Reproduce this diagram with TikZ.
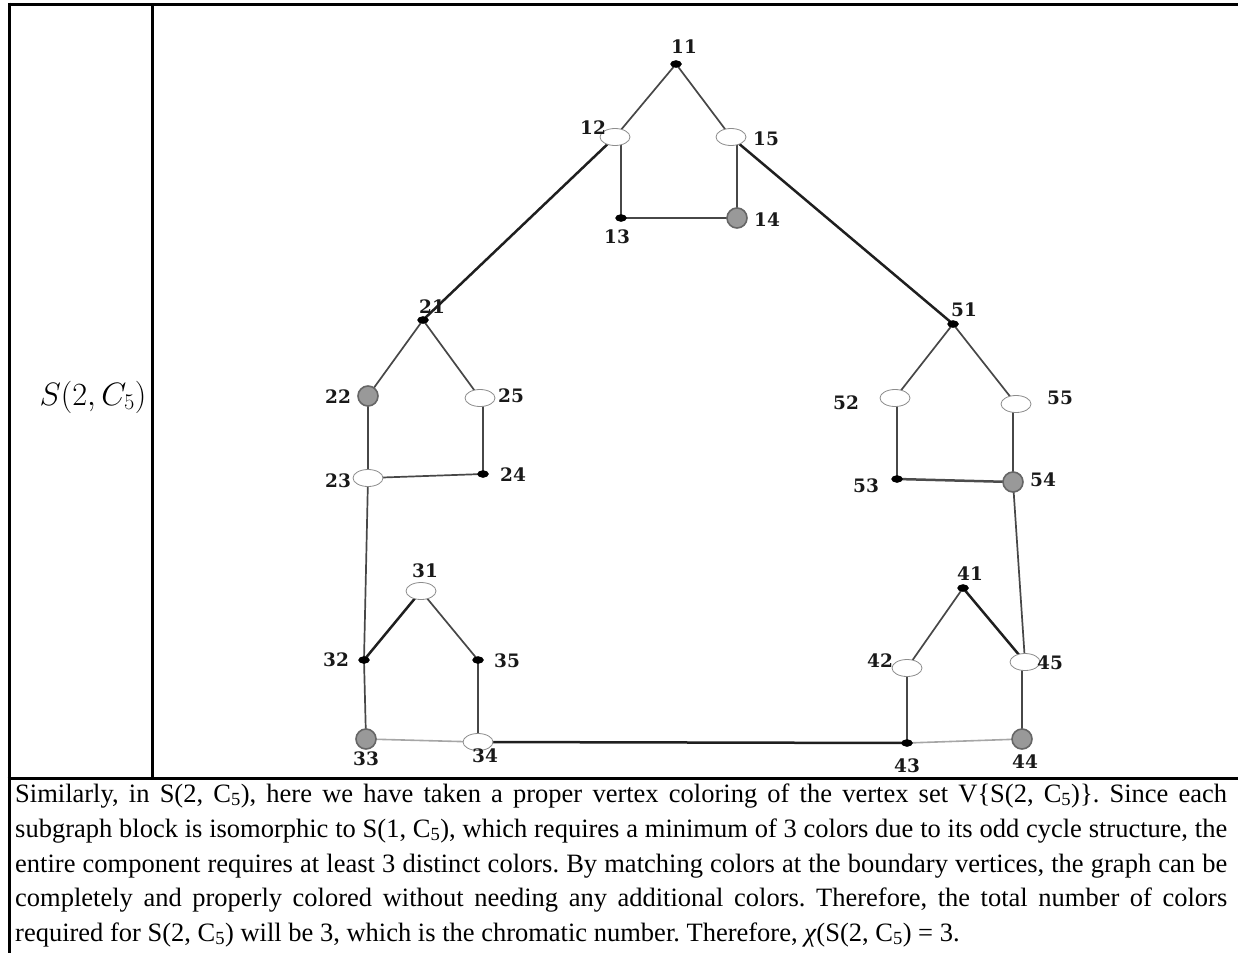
\documentclass[tikz,border=0pt]{standalone}
\usepackage{graphicx}
\usepackage{fontspec}
\setmainfont{Liberation Serif}
\newfontfamily\lblfont{DejaVu Serif}
\usetikzlibrary{shapes.geometric}
\pgfdeclarelayer{background}
\pgfsetlayers{background,main}
\begin{document}
\frenchspacing
\begin{tikzpicture}[x=1pt,y=-1pt,
  blk/.style={ellipse,fill=black,draw=black,inner sep=0pt,minimum width=11pt,minimum height=7pt},
  wht/.style={ellipse,fill=white,draw=black!45,line width=0.8pt,inner sep=0pt,minimum width=30pt,minimum height=17pt},
  gry/.style={circle,fill=black!40,draw=black!60,line width=1.6pt,inner sep=0pt,minimum size=20pt},
  lbl/.style={font=\lblfont\bfseries\fontsize{18.5}{18.5}\selectfont,text=black!90,inner sep=0pt},
  edge/.style={draw=black!72,line width=1.7pt},
  thk/.style={draw=black!88,line width=2.5pt},
  lgt/.style={draw=black!35,line width=1.6pt},
  rule/.style={line width=3pt,black},
  para/.style={anchor=base west,inner sep=0pt,font=\fontsize{26.5}{30}\selectfont}]
\useasboundingbox (0,0) rectangle (1238,953);
% table rules
\draw[rule] (8,4) -- (1238,4);
\draw[rule] (9,2.5) -- (9,953);
\draw[rule] (152,4) -- (152,778);
\draw[rule] (7.5,778) -- (1238,778);
\node[inner sep=0pt,font=\fontsize{24}{24}\selectfont] (title) at (93,397) {\scalebox{1.3}{$S(2,C_5)$}};
% vertices
\node[blk] (v11) at (676,64) {};
\node[wht] (v12) at (615,137) {};
\node[wht] (v15) at (731,137) {};
\node[blk] (v13) at (621,218) {};
\node[gry] (v14) at (737,218) {};
\node[blk] (v21) at (423,320) {};
\node[gry] (v22) at (368,396) {};
\node[wht] (v25) at (480,398) {};
\node[wht] (v23) at (368,478) {};
\node[blk] (v24) at (483,474) {};
\node[blk] (v51) at (953,324) {};
\node[wht] (v52) at (895,398) {};
\node[wht] (v55) at (1016,404) {};
\node[blk] (v53) at (897,479) {};
\node[gry] (v54) at (1013,482) {};
\node[wht] (v31) at (421,591) {};
\node[blk] (v32) at (364,660) {};
\node[blk] (v35) at (478,660) {};
\node[gry] (v33) at (366,739) {};
\node[wht] (v34) at (478,742) {};
\node[blk] (v41) at (963,588) {};
\node[wht] (v42) at (907,668) {};
\node[wht] (v45) at (1025,662) {};
\node[blk] (v43) at (907,743) {};
\node[gry] (v44) at (1022,739) {};
% labels
\node[lbl] (l11) at (684,47) {11};
\node[lbl] (l12) at (593,128) {12};
\node[lbl] (l15) at (766,139) {15};
\node[lbl] (l13) at (617,237) {13};
\node[lbl] (l14) at (767,220) {14};
\node[lbl] (l21) at (432,307) {21};
\node[lbl] (l22) at (338,397) {22};
\node[lbl] (l25) at (511,396) {25};
\node[lbl] (l23) at (338,481) {23};
\node[lbl] (l24) at (513,475) {24};
\node[lbl] (l51) at (964,310) {51};
\node[lbl] (l52) at (846,403) {52};
\node[lbl] (l55) at (1060,398) {55};
\node[lbl] (l53) at (866,486) {53};
\node[lbl] (l54) at (1043,480) {54};
\node[lbl] (l31) at (425,571) {31};
\node[lbl] (l32) at (336,660) {32};
\node[lbl] (l35) at (507,661) {35};
\node[lbl] (l33) at (366,759) {33};
\node[lbl] (l34) at (485,756) {34};
\node[lbl] (l41) at (970,574) {41};
\node[lbl] (l42) at (880,661) {42};
\node[lbl] (l45) at (1050,663) {45};
\node[lbl] (l43) at (907,766) {43};
\node[lbl] (l44) at (1025,762) {44};
% edges
\begin{pgfonlayer}{background}
\draw[edge] (v11.center) -- (v12.center);
\draw[edge] (v11.center) -- (v15.center);
\draw[edge] (v13.center) -- (v13 |- v12.center);
\draw[edge] (v13.center) -- (v14.center);
\draw[edge] (v14.center) -- (v14 |- v15.center);
\draw[thk] (v12.center) -- (v21.center);
\draw[thk] (v15.center) -- (v51.center);
\draw[edge] (v21.center) -- (v22.center);
\draw[edge] (v21.center) -- (v25.center);
\draw[edge] (v22.center) -- (v23.center);
\draw[edge] (v24.center) -- (v24 |- v25.center);
\draw[edge] (v23.center) -- (v24.center);
\draw[edge] (v23.center) -- (v32.center);
\draw[edge] (v51.center) -- (v52.center);
\draw[edge] (v51.center) -- (v55.center);
\draw[edge] (v53.center) -- (v53 |- v52.center);
\draw[edge] (v54.center) -- (v54 |- v55.center);
\draw[thk,draw=black!70] (v53.center) -- (v54.center);
\draw[edge] (v54.center) -- (v45.center);
\draw[thk] (v31.center) -- (v32.center);
\draw[edge] (v31.center) -- (v35.center);
\draw[edge] (v32.center) -- (v33.center);
\draw[edge] (v35.center) -- (v34.center);
\draw[lgt] (v33.center) -- (v34.center);
\draw[thk] (v34.center) -- (v43.center);
\draw[edge] (v41.center) -- (v42.center);
\draw[thk] (v41.center) -- (v45.center);
\draw[edge] (v42.center) -- (v43.center);
\draw[edge] (v44.center) -- (v44 |- v45.center);
\draw[lgt] (v43.center) -- (v44.center);
\end{pgfonlayer}
% paragraph
\node[para] (p1) at (15,802) {\makebox[1212pt][s]{Similarly, in S(2, C\textsubscript{5}), here we have taken a proper vertex coloring of the vertex set V\{S(2, C\textsubscript{5})\}. Since each}};
\node[para] (p2) at (15,837) {\makebox[1212pt][s]{subgraph block is isomorphic to S(1, C\textsubscript{5}), which requires a minimum of 3 colors due to its odd cycle structure, the}};
\node[para] (p3) at (15,872) {\makebox[1212pt][s]{entire component requires at least 3 distinct colors. By matching colors at the boundary vertices, the graph can be}};
\node[para] (p4) at (15,906) {\makebox[1212pt][s]{completely and properly colored without needing any additional colors. Therefore, the total number of colors}};
\node[para] (p5) at (15,941) {required for S(2, C\textsubscript{5}) will be 3, which is the chromatic number. Therefore, \textit{χ}(S(2, C\textsubscript{5}) = 3.};
\end{tikzpicture}
\end{document}
